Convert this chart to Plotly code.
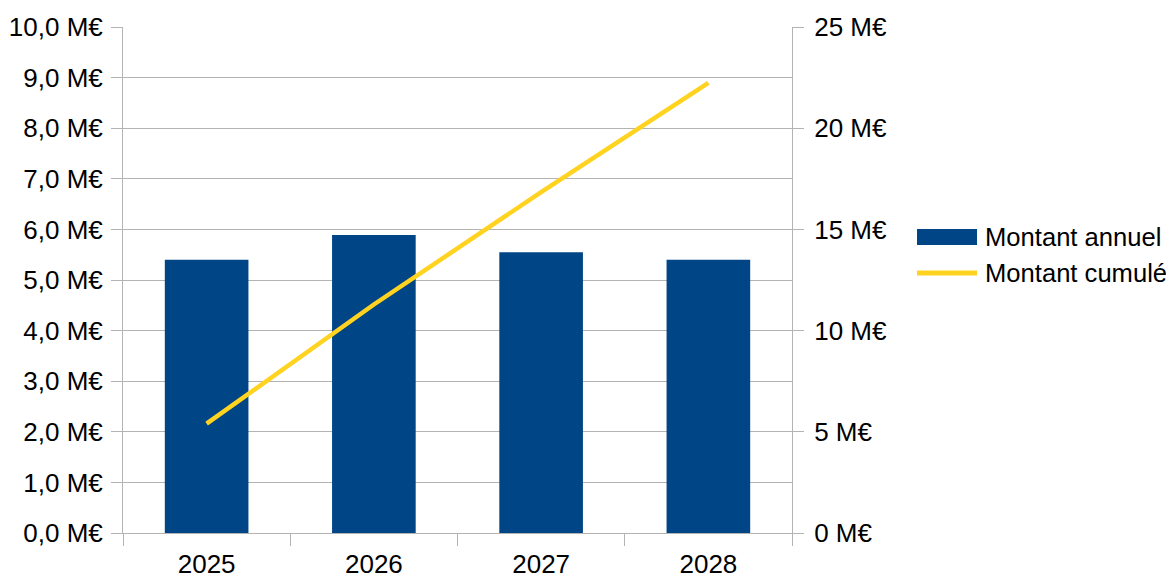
import plotly.graph_objects as go

years = ["2025", "2026", "2027", "2028"]
annual = [5.40, 5.89, 5.55, 5.40]
cumulative = [5.40, 11.29, 16.84, 22.24]
legend_labels = ["Montant annuel", "Montant cumulé"]

BLUE = "#004586"
YELLOW = "#ffd320"
GRID = "#b3b3b3"
FONT = dict(family="Liberation Sans, Arial, sans-serif", size=26, color="#000000")

fig = go.Figure()
fig.add_trace(go.Bar(x=years, y=annual, marker=dict(color=BLUE, line=dict(width=0)),
                     width=0.5, name=legend_labels[0], showlegend=False, yaxis="y"))
fig.add_trace(go.Scatter(x=years, y=cumulative, mode="lines",
                         line=dict(color=YELLOW, width=4.5),
                         name=legend_labels[1], showlegend=False, yaxis="y2"))

OFF = 8  # page body margin
PL, PR, PT, PB = 123, 792, 27, 533  # plot area in window pixels
PW, PH = PR - PL, PB - PT
W, H = 1174 - OFF, 578 - OFF
L, T = PL - OFF, PT - OFF
R = W - L - PW
B = H - T - PH

fig.update_layout(
    width=W, height=H,
    margin=dict(l=L, r=R, t=T, b=B, pad=0, autoexpand=False),
    paper_bgcolor="white", plot_bgcolor="white",
    font=FONT,
    separators=", ",
    bargap=0.5,
    xaxis=dict(type="category", showgrid=False, showline=True, linecolor=GRID, linewidth=1,
               ticks="outside", tickson="boundaries", ticklen=12, tickcolor=GRID, tickwidth=1,
               tickfont=FONT, zeroline=False, automargin=False, ticklabelstandoff=8),
    yaxis=dict(range=[0, 10], dtick=1, tickformat=".1f", ticksuffix=" M€",
               showgrid=True, gridcolor=GRID, gridwidth=1, zeroline=False,
               showline=True, linecolor=GRID, linewidth=1, automargin=False,
               ticks="outside", ticklen=11, tickcolor=GRID, tickfont=FONT,
               ticklabelstandoff=3),
    yaxis2=dict(range=[0, 25], dtick=5, tickformat="d", ticksuffix=" M€",
                overlaying="y", side="right", showgrid=False, zeroline=False,
                showline=True, linecolor=GRID, linewidth=1, automargin=False,
                ticks="outside", ticklen=11, tickcolor=GRID, tickfont=FONT,
                ticklabelstandoff=5),
    showlegend=False,
)

# Custom legend (paper coordinates relative to plot area)
def px_x(x):
    return (x - PL) / PW

def px_y(y):
    return (PB - y) / PH

fig.add_shape(type="rect", xref="paper", yref="paper",
              x0=px_x(917), x1=px_x(977), y0=px_y(245), y1=px_y(229),
              fillcolor=BLUE, line=dict(width=0), layer="above")
fig.add_shape(type="line", xref="paper", yref="paper",
              x0=px_x(917), x1=px_x(977), y0=px_y(273), y1=px_y(273),
              line=dict(color=YELLOW, width=5), layer="above")
for label, yc in zip(legend_labels, [237, 273]):
    fig.add_annotation(text=label, xref="paper", yref="paper",
                       x=px_x(983), y=px_y(yc), xanchor="left", yanchor="middle",
                       showarrow=False, font=dict(family=FONT["family"], size=25.6, color="#000"))

fig.write_html("out.html")
